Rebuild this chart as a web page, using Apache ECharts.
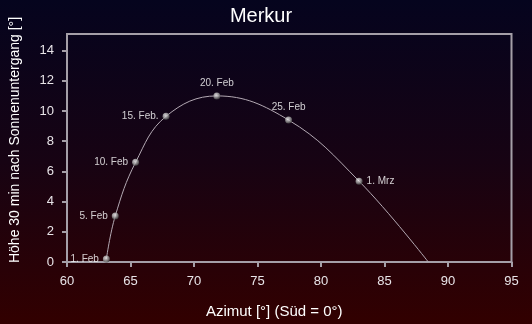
<!DOCTYPE html>
<html>
<head>
<meta charset="utf-8">
<script src="https://cdn.jsdelivr.net/npm/echarts@6/dist/echarts.min.js"></script>
<style>
html,body{margin:0;padding:0;background:#000;}
#chart{width:532px;height:324px;}
</style>
</head>
<body>
<div id="chart"></div>
<script>
// Data
var dates = ['1. Feb', '5. Feb', '10. Feb', '15. Feb.', '20. Feb', '25. Feb', '1. Mrz'];
var azimuth = [63.1, 63.8, 65.4, 67.8, 71.8, 77.45, 83.0];
var altitude = [0.2, 3.05, 6.6, 9.65, 11.0, 9.4, 5.35];
var labelSide = ['left', 'left', 'left', 'left', 'top', 'top', 'right'];
// end of the path where it meets the horizon
var endAzimuth = [88.45];
var endAltitude = [0];
var xTicks = [60, 65, 70, 75, 80, 85, 90, 95];
var yTicks = [0, 2, 4, 6, 8, 10, 12, 14];

var pathData = azimuth.map(function (a, i) { return [a, altitude[i]]; })
  .concat(endAzimuth.map(function (a, i) { return [a, endAltitude[i]]; }));

var pointData = azimuth.map(function (a, i) {
  return {
    value: [a, altitude[i]],
    name: dates[i],
    label: { position: labelSide[i] }
  };
});

var axisColor = '#a59fa8';
var font = 'Liberation Sans, Arial, sans-serif';
var chart = echarts.init(document.getElementById('chart'), null, { renderer: 'canvas' });
chart.setOption({
  animation: false,
  backgroundColor: {
    type: 'linear', x: 0, y: 0, x2: 0, y2: 1,
    colorStops: [
      { offset: 0, color: '#05041e' },
      { offset: 0.5, color: '#170313' },
      { offset: 1, color: '#320000' }
    ]
  },
  title: {
    text: 'Merkur',
    left: 256,
    textAlign: 'center',
    top: 1,
    textStyle: { color: '#ffffff', fontSize: 20, fontWeight: 'normal', fontFamily: font }
  },
  grid: {
    left: 66, right: 20.5, top: 34, bottom: 61,
    show: true, borderColor: axisColor, borderWidth: 2, backgroundColor: 'transparent'
  },
  xAxis: {
    type: 'value', min: 60, max: 95, interval: 5,
    name: 'Azimut [°] (Süd = 0°)',
    nameLocation: 'middle', nameGap: 42,
    nameTextStyle: { color: '#ffffff', fontSize: 15, fontFamily: font, padding: [0, 30, 0, 0] },
    axisLine: { show: true, lineStyle: { color: axisColor, width: 2 } },
    axisTick: { show: true, length: 5, lineStyle: { color: axisColor, width: 2 }, customValues: xTicks },
    axisLabel: { color: '#e8e4e8', fontSize: 13, margin: 13, fontFamily: font, customValues: xTicks },
    splitLine: { show: false }
  },
  yAxis: {
    type: 'value', min: 0, max: 15.1, interval: 2,
    name: 'Höhe 30 min nach Sonnenuntergang [°]',
    nameLocation: 'middle', nameGap: 45,
    nameTextStyle: { color: '#ffffff', fontSize: 14, fontFamily: font, padding: [0, 0, 0, 16] },
    axisLine: { show: true, lineStyle: { color: axisColor, width: 2 } },
    axisTick: { show: true, length: 5, lineStyle: { color: axisColor, width: 2 }, customValues: yTicks },
    axisLabel: { color: '#e8e4e8', fontSize: 13, margin: 13, fontFamily: font, customValues: yTicks },
    splitLine: { show: false }
  },
  series: [
    {
      type: 'line',
      data: pathData,
      smooth: 0.4,
      showSymbol: false,
      lineStyle: { color: '#b4aab4', width: 1 },
      z: 2
    },
    {
      type: 'scatter',
      data: pointData,
      symbol: 'circle',
      symbolSize: 7,
      itemStyle: {
        color: {
          type: 'radial', x: 0.4, y: 0.35, r: 0.7,
          colorStops: [
            { offset: 0, color: '#ffffff' },
            { offset: 0.45, color: '#b8b8b8' },
            { offset: 1, color: '#3a3a3a' }
          ]
        }
      },
      label: {
        show: true,
        formatter: function (p) { return p.name; },
        color: '#ffffff',
        fontSize: 10,
        distance: 4,
        fontFamily: font
      },
      z: 3
    }
  ]
});
</script>
</body>
</html>
